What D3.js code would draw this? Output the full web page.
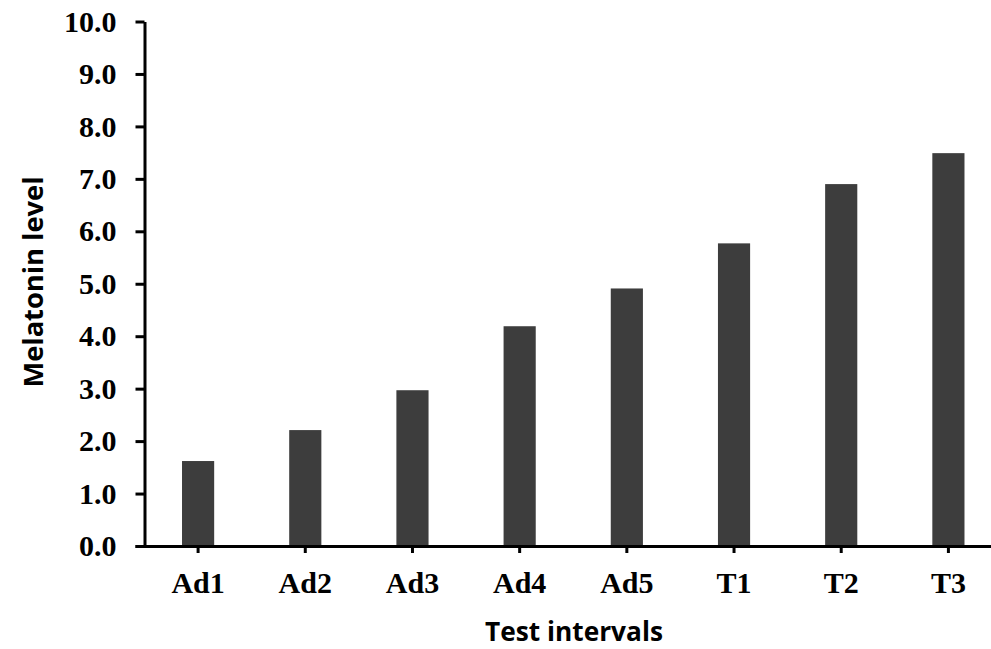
<!DOCTYPE html>
<html>
<head>
<meta charset="utf-8">
<script src="https://cdn.jsdelivr.net/npm/d3@7"></script>
<style>
  html, body { margin: 0; padding: 0; background: #fff; }
  svg { display: block; }
</style>
</head>
<body>
<svg id="chart" width="991" height="649"></svg>
<script>
const categories = ["Ad1", "Ad2", "Ad3", "Ad4", "Ad5", "T1", "T2", "T3"];
const melatonin = [1.62, 2.21, 2.97, 4.19, 4.91, 5.77, 6.90, 7.49];
const yTicks = [0, 1, 2, 3, 4, 5, 6, 7, 8, 9, 10];
const yTitle = "Melatonin level";
const xTitle = "Test intervals";

const svg = d3.select("#chart");
const x0 = 144.5, x1 = 1002, yBottom = 546, yTop = 21.5;

const y = d3.scaleLinear().domain([0, 10]).range([yBottom, yTop]);
const x = d3.scaleBand().domain(categories).range([x0, x1])
  .paddingInner(0.7).paddingOuter(0.35);

const tickFont = "'Liberation Serif', 'Times New Roman', serif";
const titleFont = "'Open Sans', 'Noto Sans', sans-serif";

// bars
svg.append("g").selectAll("rect")
  .data(categories.map((c, i) => ({ c, v: melatonin[i] })))
  .join("rect")
  .attr("x", d => x(d.c))
  .attr("width", x.bandwidth())
  .attr("y", d => y(d.v))
  .attr("height", d => y(0) - y(d.v))
  .attr("fill", "#3d3d3d");

// y axis
const yAxis = svg.append("g")
  .attr("transform", `translate(${x0},0)`)
  .call(d3.axisLeft(y).tickValues(yTicks).tickSize(9).tickSizeOuter(0)
    .tickPadding(19).tickFormat(d => d.toFixed(1)));
yAxis.select(".domain").attr("stroke", "#000").attr("stroke-width", 3);
yAxis.selectAll(".tick line").attr("stroke", "#000").attr("stroke-width", 3);
yAxis.selectAll(".tick text")
  .attr("font-family", tickFont).attr("font-weight", "bold")
  .attr("font-size", 30).attr("fill", "#000");

// x axis
const xAxis = svg.append("g")
  .attr("transform", `translate(0,${yBottom})`)
  .call(d3.axisBottom(x).tickSize(7).tickSizeOuter(0).tickPadding(0));
xAxis.select(".domain").attr("d", `M${x0 - 9},0.5H${x1}`)
  .attr("stroke", "#000").attr("stroke-width", 3);
xAxis.selectAll(".tick line").attr("stroke", "#000").attr("stroke-width", 3);
xAxis.selectAll(".tick text")
  .attr("dy", null).attr("y", 47)
  .attr("font-family", tickFont).attr("font-weight", "bold")
  .attr("font-size", 30).attr("fill", "#000");

// titles
svg.append("text")
  .attr("transform", `translate(43,282) rotate(-90)`)
  .attr("text-anchor", "middle")
  .attr("font-family", titleFont).attr("font-weight", "bold")
  .attr("font-size", 26)
  .attr("textLength", 211).attr("lengthAdjust", "spacingAndGlyphs")
  .attr("fill", "#000")
  .text(yTitle);

svg.append("text")
  .attr("x", 574).attr("y", 641)
  .attr("text-anchor", "middle")
  .attr("font-family", titleFont).attr("font-weight", "bold")
  .attr("font-size", 26)
  .attr("textLength", 178).attr("lengthAdjust", "spacingAndGlyphs")
  .attr("fill", "#000")
  .text(xTitle);
</script>
</body>
</html>
